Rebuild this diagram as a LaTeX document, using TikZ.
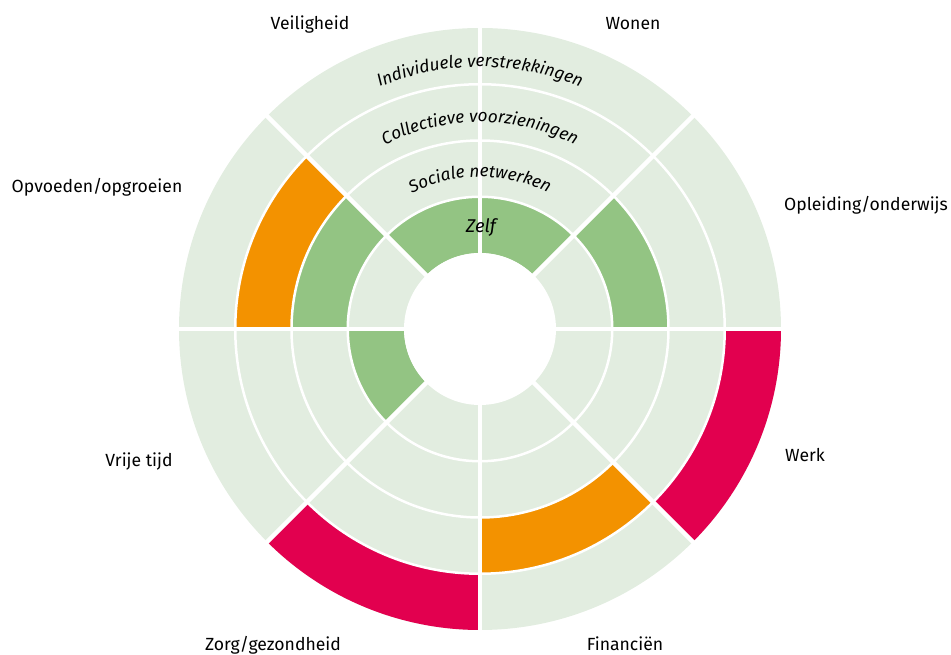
\documentclass[tikz,border=0pt]{standalone}
\usepackage{fontspec}
\setmainfont{Fira Sans}
\usetikzlibrary{decorations.text}

\definecolor{paleGreen}{HTML}{E2EDE0}
\definecolor{midGreen}{HTML}{93C483}
\definecolor{signalOrange}{HTML}{F39200}
\definecolor{signalRed}{HTML}{E2004F}

\newcommand{\areafont}{\fontsize{17.6}{20}\selectfont}
\newcommand{\ringfont}{\itshape\fontsize{17.2}{20}\selectfont}

\tikzset{
  areaname/.style={font=\areafont, anchor=base, inner sep=0pt},
  ringname/.style={decorate, decoration={text along path, text align=center, text={|\ringfont|#1}}}
}

\begin{document}
\begin{tikzpicture}[x=1pt,y=1pt]
  \useasboundingbox (0,0) rectangle (951,655);
  \begin{scope}[shift={(480,326)}]
    % base disc
    \fill[paleGreen] (0,0) circle[radius=301];
    % coloured cells: start angle / ring (1 = Zelf) / colour
    \foreach \a/\r/\c in {0/2/midGreen, 45/1/midGreen, 90/1/midGreen,
        135/2/midGreen, 135/3/signalOrange, 180/1/midGreen,
        225/4/signalRed, 270/3/signalOrange, 315/4/signalRed}{
      \pgfmathsetmacro\rin{76+56.25*(\r-1)}
      \pgfmathsetmacro\rout{\rin+56.25}
      \pgfmathsetmacro\b{\a+45}
      \fill[\c] (\a:\rin) arc[start angle=\a, end angle=\b, radius=\rin]
        -- (\b:\rout) arc[start angle=\b, end angle=\a, radius=\rout] -- cycle;
    }
    % ring borders
    \foreach \r in {1,2,3}
      \draw[white, line width=2.5pt] (0,0) circle[radius=76+56.25*\r];
    % sector borders
    \foreach \a in {0,45,...,315}
      \draw[white, line width=4.5pt] (0,0) -- (\a:306);
    % hole in the middle
    \fill[white] (0,0) circle[radius=76];

    % ring names
    \path[ringname=Individuele verstrekkingen] (160:262) arc[start angle=160, end angle=20, radius=262];
    \path[ringname=Collectieve voorzieningen] (160:207) arc[start angle=160, end angle=20, radius=207];
    \path[ringname=Sociale netwerken] (160:152) arc[start angle=160, end angle=20, radius=152];
    \node[font=\itshape\fontsize{18.5}{20}\selectfont, anchor=base, inner sep=0pt] (zelf) at (1,96) {Zelf};
  \end{scope}

  % areas of life
  \node[areaname] (veiligheid) at (310,625) {Veiligheid};
  \node[areaname] (wonen) at (633,625) {Wonen};
  \node[areaname] (opvoeden) at (97,462) {Opvoeden/opgroeien};
  \node[areaname] (opleiding) at (866,444) {Opleiding/onderwijs};
  \node[areaname] (werk) at (805,193) {Werk};
  \node[areaname] (vrijetijd) at (139,188) {Vrije tijd};
  \node[areaname] (zorg) at (273,4) {Zorg/gezondheid};
  \node[areaname] (financien) at (625,4) {Financiën};
\end{tikzpicture}
\end{document}
